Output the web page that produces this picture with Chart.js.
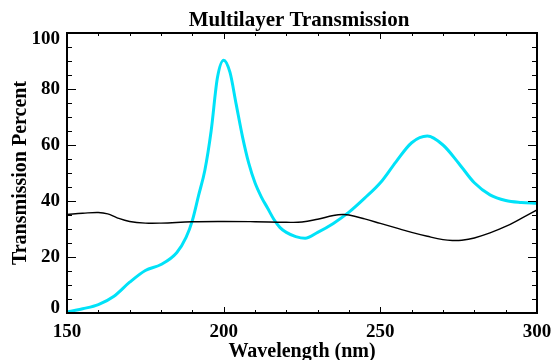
<!DOCTYPE html>
<html>
<head>
<meta charset="utf-8">
<script src="https://cdn.jsdelivr.net/npm/chart.js@4"></script>
<style>
  html, body { margin: 0; padding: 0; background: #fff; }
</style>
</head>
<body>
<canvas id="myChart" width="552" height="360"></canvas>
<script>
// Values
const blackWave   = [150, 155, 160, 163, 166, 170, 175, 180, 190, 200, 210, 220, 225, 230, 235, 238, 240, 245, 250, 255, 260, 265, 270, 273, 276, 280, 285, 290, 295, 300];
const blackValues = [35.2, 35.6, 35.9, 35.4, 34.0, 32.7, 32.1, 32.1, 32.6, 32.7, 32.6, 32.4, 32.5, 33.5, 34.8, 35.2, 35.0, 33.6, 32.0, 30.4, 28.8, 27.4, 26.2, 25.9, 26.0, 26.8, 28.6, 30.9, 33.8, 36.8];

const cyanWave   = [150, 155, 160, 165, 170, 175, 180, 185, 188, 190, 192, 194, 196, 198, 200, 202, 204, 206, 208, 210, 212, 214, 216, 218, 220, 223, 226, 230, 235, 240, 245, 250, 255, 260, 265, 270, 275, 280, 285, 290, 295, 300];
const cyanValues = [0.3, 1.5, 3.0, 6.0, 11.0, 15.2, 17.3, 21.5, 27.0, 33.0, 42.0, 51.0, 65.0, 84.0, 90.3, 86.0, 74.5, 63.0, 53.5, 46.5, 41.5, 37.5, 33.5, 30.5, 28.8, 27.3, 26.7, 28.8, 32.0, 36.0, 41.0, 46.5, 54.0, 60.8, 63.2, 60.0, 53.5, 46.5, 42.2, 40.2, 39.5, 39.2];

const chartTitle = 'Multilayer Transmission';
const xTicks = [150, 200, 250, 300];
const yTicks = [0, 20, 40, 60, 80, 100];
const xMinorStep = 10;
const yMinorStep = 5;

const serif = "'Liberation Serif', 'Times New Roman', serif";

function toPoints(xs, ys) {
    return xs.map((v, i) => ({ x: v, y: ys[i] }));
}

// IDL style box: inward ticks on all four sides, y labels kept inside the axis range
const framePlugin = {
    id: 'frame',
    afterDatasetsDraw(chart) {
        const { ctx, chartArea: a, scales: { x, y } } = chart;
        ctx.save();
        ctx.strokeStyle = '#000';
        ctx.lineWidth = 1;
        ctx.beginPath();
        for (let v = x.min; v <= x.max; v += xMinorStep) {
            const px = Math.round(x.getPixelForValue(v)) + 0.5;
            const len = xTicks.includes(v) ? 6 : 3;
            ctx.moveTo(px, a.bottom); ctx.lineTo(px, a.bottom - len);
            ctx.moveTo(px, a.top); ctx.lineTo(px, a.top + len);
        }
        for (let v = y.min; v <= y.max; v += yMinorStep) {
            const py = Math.round(y.getPixelForValue(v)) + 0.5;
            const len = yTicks.includes(v) ? 9 : 5;
            ctx.moveTo(a.left, py); ctx.lineTo(a.left + len, py);
            ctx.moveTo(a.right, py); ctx.lineTo(a.right - len, py);
        }
        ctx.stroke();
        ctx.lineWidth = 2;
        ctx.strokeRect(a.left, a.top, a.right - a.left, a.bottom - a.top);

        // y tick labels
        ctx.fillStyle = '#000';
        ctx.font = 'bold 19px ' + serif;
        ctx.textAlign = 'right';
        ctx.textBaseline = 'middle';
        yTicks.forEach(v => {
            let py = y.getPixelForValue(v);
            py = Math.min(Math.max(py, a.top + 6), a.bottom - 5);
            ctx.fillText(String(v), a.left - 7, py);
        });

        // title, centred over the plot box
        ctx.font = 'bold 21px ' + serif;
        ctx.textAlign = 'center';
        ctx.textBaseline = 'alphabetic';
        ctx.fillText(chartTitle, (a.left + a.right) / 2 - 3, a.top - 7);
        ctx.restore();
    }
};

const ctx = document.getElementById('myChart').getContext('2d');
const chart = new Chart(ctx, {
    type: 'line',
    data: {
        datasets: [
            {
                label: 'black',
                data: toPoints(blackWave, blackValues),
                borderColor: '#000',
                borderWidth: 1.4,
                pointRadius: 0,
                tension: 0.4,
                fill: false
            },
            {
                label: 'cyan',
                data: toPoints(cyanWave, cyanValues),
                borderColor: '#00e2f8',
                borderWidth: 3,
                pointRadius: 0,
                cubicInterpolationMode: 'monotone',
                fill: false
            }
        ]
    },
    options: {
        responsive: false,
        animation: false,
        layout: { padding: { left: 0, right: 15, top: 33, bottom: 0 } },
        plugins: {
            legend: { display: false },
            tooltip: { enabled: false },
            title: { display: false }
        },
        scales: {
            x: {
                type: 'linear',
                min: 150,
                max: 300,
                afterBuildTicks: s => { s.ticks = xTicks.map(v => ({ value: v })); },
                afterFit: s => { s.height = 47; s.paddingLeft = 0; s.paddingRight = 0; },
                grid: { display: false, drawTicks: false },
                border: { display: false },
                ticks: {
                    color: '#000',
                    padding: 8,
                    maxRotation: 0,
                    font: { family: serif, size: 19, weight: 'bold' }
                },
                title: {
                    display: true,
                    text: 'Wavelength (nm)',
                    color: '#000',
                    font: { family: serif, size: 20, weight: 'bold' },
                    padding: { top: 0, bottom: -4 }
                }
            },
            y: {
                min: 0,
                max: 100,
                afterBuildTicks: s => { s.ticks = yTicks.map(v => ({ value: v })); },
                afterFit: s => { s.width = 67; s.paddingTop = 0; s.paddingBottom = 0; },
                grid: { display: false, drawTicks: false },
                border: { display: false },
                ticks: { display: false },
                title: {
                    display: true,
                    text: 'Transmission Percent',
                    color: '#000',
                    font: { family: serif, size: 20, weight: 'bold' },
                    padding: { top: 9, bottom: 0 }
                }
            }
        }
    },
    plugins: [framePlugin]
});
</script>
</body>
</html>
